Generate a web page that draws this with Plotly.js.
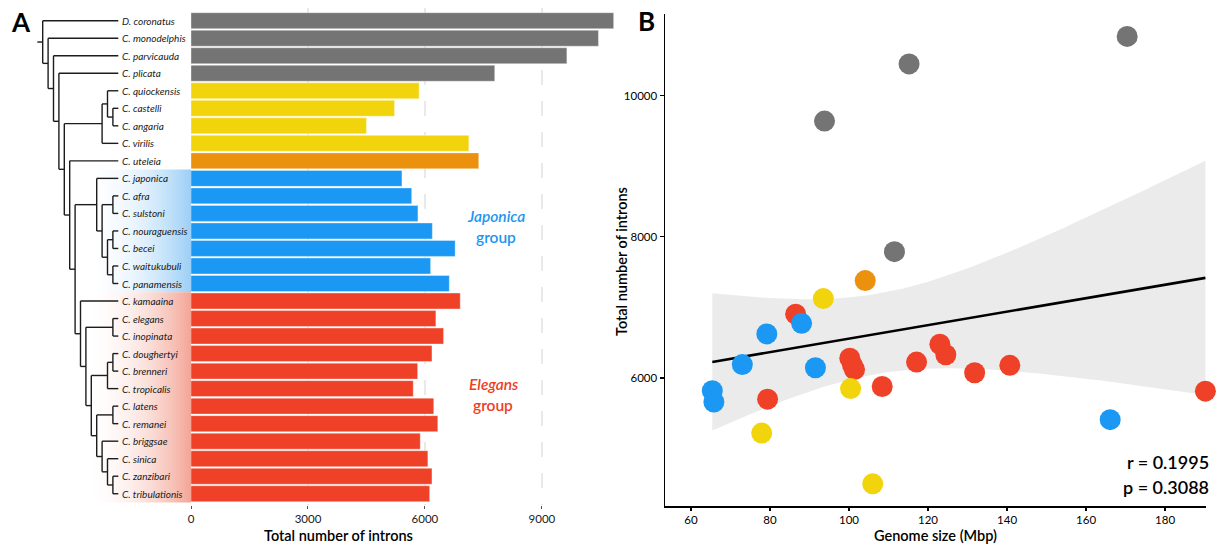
<!DOCTYPE html>
<html><head><meta charset="utf-8">
<script src="https://cdn.plot.ly/plotly-3.0.1.min.js"></script>
<style>html,body{margin:0;padding:0;background:#fff}#chart{width:1221px;height:545px}</style>
</head><body><div id="chart"></div>
<script>
// ---------------- DATA ----------------
const species = ['D. coronatus','C. monodelphis','C. parvicauda','C. plicata','C. quiockensis','C. castelli','C. angaria','C. virilis','C. uteleia','C. japonica','C. afra','C. sulstoni','C. nouraguensis','C. becei','C. waitukubuli','C. panamensis','C. kamaaina','C. elegans','C. inopinata','C. doughertyi','C. brenneri','C. tropicalis','C. latens','C. remanei','C. briggsae','C. sinica','C. zanzibari','C. tribulationis'];
const groups = ['basal','basal','basal','basal','drosophilae','drosophilae','drosophilae','drosophilae','uteleia','japonica','japonica','japonica','japonica','japonica','japonica','japonica','elegans','elegans','elegans','elegans','elegans','elegans','elegans','elegans','elegans','elegans','elegans','elegans'];
const introns = [10840,10450,9640,7790,5850,5220,4500,7125,7380,5410,5660,5820,6190,6775,6145,6625,6905,6280,6478,6180,5813,5700,6226,6330,5880,6075,6180,6121];
const genomeSize = [170.4,115.2,93.8,111.5,100.4,77.9,106.0,93.5,104.1,166.1,65.8,65.4,73.0,88.0,91.5,79.2,86.5,100.2,123.0,140.7,190.2,79.4,117.1,124.5,108.4,131.8,100.9,101.4];
const treeNewick = "(D. coronatus,(C. monodelphis,(C. parvicauda,(C. plicata,(((C. quiockensis,(C. castelli,C. angaria)),C. virilis),(C. uteleia,((C. japonica,((C. afra,C. sulstoni),((C. nouraguensis,C. becei),(C. waitukubuli,C. panamensis)))),(C. kamaaina,((C. elegans,C. inopinata),(((C. doughertyi,C. brenneri),C. tropicalis),((C. latens,C. remanei),(C. briggsae,(C. sinica,(C. zanzibari,C. tribulationis))))))))))))))";
const barTicks = [0,3000,6000,9000];
const sizeTicks = [60,80,100,120,140,160,180];
const intronTicks = [6000,8000,10000];
const statR = 'r = 0.1995';
const statP = 'p = 0.3088';

// ---------------- STYLE ----------------
const colorOf = {basal:'#747474', drosophilae:'#f2d40c', uteleia:'#eb910e', japonica:'#1a98f4', elegans:'#ee4127'};
const FONT = 'Lato, "Open Sans", sans-serif';
const W = 1221, H = 545;
const px = p => p / W, py = p => 1 - p / H;

// ---------------- TREE ----------------
function parseNewick(s){
  let i = 0;
  function node(){
    if (s[i] === '('){
      i++; const ch = [];
      while (true){
        ch.push(node());
        if (s[i] === ','){ i++; continue; }
        if (s[i] === ')'){ i++; break; }
      }
      return {children: ch};
    }
    const j = i;
    while (i < s.length && !',()'.includes(s[i])) i++;
    return {name: s.slice(j, i).trim()};
  }
  return node();
}
const root = parseNewick(treeNewick);
function placeNode(nd){
  if (nd.name !== undefined){ nd.y = species.indexOf(nd.name); nd.h = 0; }
  else {
    nd.children.forEach(placeNode);
    nd.h = 1 + Math.max(...nd.children.map(c => c.h));
    nd.y = (nd.children[0].y + nd.children[nd.children.length-1].y) / 2;
  }
  nd.x = -nd.h;
}
placeNode(root);
const tx = [], ty = [];
function seg(x0,y0,x1,y1){ tx.push(x0,x1,null); ty.push(y0,y1,null); }
function walk(nd){
  if (!nd.children) return;
  const a = nd.children[0], b = nd.children[nd.children.length-1];
  seg(nd.x, a.y, nd.x, b.y);
  nd.children.forEach(c => { seg(nd.x, c.y, c.x, c.y); walk(c); });
}
walk(root);
seg(root.x - 1, root.y, root.x, root.y);

const tipPx = 118.3, stepPx = 5.4, barLeftPx = 191;
const x2range = [-tipPx/stepPx, (barLeftPx - tipPx)/stepPx];

function groupRows(g){ const r = species.map((s,i)=>i).filter(i=>groups[i]===g); return [Math.min(...r)-0.5, Math.max(...r)+0.5]; }
function gradTrace(g, c){
  const [y0,y1] = groupRows(g);
  const xl = (84 - tipPx)/stepPx, xr = x2range[1];
  return {type:'scatter', mode:'lines', xaxis:'x2', yaxis:'y', x:[xl,xr,xr,xl,xl], y:[y0,y0,y1,y1,y0],
    fill:'toself', line:{width:0}, hoverinfo:'skip', showlegend:false,
    fillgradient:{type:'horizontal', colorscale:[[0,'rgba(255,255,255,0)'],[1,c]]}};
}

// ---------------- REGRESSION ----------------
const n = genomeSize.length;
const mx = genomeSize.reduce((a,b)=>a+b,0)/n, my = introns.reduce((a,b)=>a+b,0)/n;
let sxx=0, sxy=0;
for (let i=0;i<n;i++){ sxx += (genomeSize[i]-mx)**2; sxy += (genomeSize[i]-mx)*(introns[i]-my); }
const slope = sxy/sxx, icpt = my - slope*mx;
let sse = 0; for (let i=0;i<n;i++){ sse += (introns[i] - icpt - slope*genomeSize[i])**2; }
const sres = Math.sqrt(sse/(n-2)), tcrit = 2.0555;
const xmin = Math.min(...genomeSize), xmax = Math.max(...genomeSize);
const fx = [], fy = [], up = [], lo = [];
for (let k=0;k<=80;k++){
  const x = xmin + (xmax-xmin)*k/80, yv = icpt + slope*x;
  const se = sres*Math.sqrt(1/n + (x-mx)**2/sxx);
  fx.push(x); fy.push(yv); up.push(yv + tcrit*se); lo.push(yv - tcrit*se);
}

// ---------------- TRACES ----------------
const rows = species.map((s,i)=>i);
const order = rows.slice().reverse();
const traces = [
  gradTrace('japonica','#9ccff6'),
  gradTrace('elegans','#f3a596'),
  {type:'scatter', mode:'lines', xaxis:'x2', yaxis:'y', x:tx, y:ty, line:{color:'#1c1c1c', width:1.4}, hoverinfo:'skip', showlegend:false},
  {type:'bar', orientation:'h', xaxis:'x', yaxis:'y', x:introns, y:rows, width:0.91,
    marker:{color:groups.map(g=>colorOf[g]), line:{width:0.8, color:'rgba(255,255,255,0.45)'}}, showlegend:false},
  {type:'scatter', mode:'lines', xaxis:'x3', yaxis:'y3', x:fx.concat(fx.slice().reverse()), y:up.concat(lo.slice().reverse()),
    fill:'toself', fillcolor:'#ebebeb', line:{width:0}, hoverinfo:'skip', showlegend:false},
  {type:'scatter', mode:'lines', xaxis:'x3', yaxis:'y3', x:fx, y:fy, line:{color:'#000', width:2.6}, showlegend:false},
  {type:'scatter', mode:'markers', xaxis:'x3', yaxis:'y3', x:order.map(i=>genomeSize[i]), y:order.map(i=>introns[i]),
    marker:{size:21, color:order.map(i=>colorOf[groups[i]]), line:{width:0}}, cliponaxis:false, showlegend:false}
];

// ---------------- ANNOTATIONS ----------------
const ann = [];
species.forEach((sp,i)=>ann.push({xref:'x2', yref:'y', x:0, y:i, xanchor:'left', yanchor:'middle', xshift:2, showarrow:false,
  text:'<i>'+sp+'</i>', font:{family:FONT, size:10, color:'#1a1a1a'}}));
function pa(x, y, text, font, extra){ ann.push(Object.assign({xref:'paper', yref:'paper', x:px(x), y:py(y), xanchor:'center', yanchor:'middle', showarrow:false, text:text, font:font}, extra||{})); }
const blueF = {family:FONT, size:15.5, color:'#1e95ef', weight:600}, redF = {family:FONT, size:15.5, color:'#ee3e24', weight:600};
pa(496, 216, '<i>Japonica</i>', blueF);
pa(496, 237, 'group', blueF);
pa(493, 384, '<i>Elegans</i>', redF);
pa(493, 405, 'group', redF);
pa(21, 22, '<b>A</b>', {family:FONT, size:26, color:'#000'});
pa(646, 21, '<b>B</b>', {family:FONT, size:26, color:'#000'});
const titleF = {family:FONT, size:14.5, color:'#000', weight:600};
pa(338, 535, 'Total number of introns', titleF);
pa(935.5, 535, 'Genome size (Mbp)', titleF);
pa(621, 262, 'Total number of introns', titleF, {textangle:-90});
const statF = {family:FONT, size:18, color:'#000', weight:600};
pa(1211, 462, statR, statF, {xanchor:'right'});
pa(1211, 487, statP, statF, {xanchor:'right'});

// ---------------- LAYOUT ----------------
const rowTop = 8, rowBot = 505, pitch = 17.52, firstCenter = 20.7;
const yRange = [27 + (rowBot - (firstCenter + 27*pitch))/pitch, -(firstCenter - rowTop)/pitch];
const plotLayout = {
  width:W, height:H, margin:{l:0,r:0,t:0,b:0}, paper_bgcolor:'#fff', plot_bgcolor:'rgba(0,0,0,0)',
  font:{family:FONT, color:'#1a1a1a'}, showlegend:false, bargap:0,
  xaxis:{domain:[px(191), px(616)], range:[0,10900], anchor:'y', tickvals:barTicks, ticktext:barTicks.map(String),
    showgrid:true, gridcolor:'#e9e9e9', gridwidth:2, griddash:'15px,16px', zeroline:false, showline:false,
    ticks:'outside', ticklen:3, tickcolor:'#555', tickwidth:1, tickfont:{family:FONT, size:11.5, color:'#1a1a1a'}},
  yaxis:{domain:[py(rowBot), py(rowTop)], range:yRange, anchor:'x', showgrid:false, zeroline:false, showticklabels:false, ticks:'', showline:false},
  xaxis2:{domain:[0, px(191)], range:x2range, anchor:'y', visible:false},
  xaxis3:{domain:[px(665), px(1206)], range:[60-(691-665)/3.958, 190.35], anchor:'y3',
    tickvals:sizeTicks, ticktext:sizeTicks.map(String), showgrid:false, zeroline:false, showline:true, linecolor:'#000', linewidth:1.5,
    ticks:'outside', ticklen:3, tickcolor:'#000', tickwidth:1.2, tickfont:{family:FONT, size:11.5, color:'#000'}},
  yaxis3:{domain:[py(506), py(14)], range:[6000-(506-378)/0.07058, 6000+(378-14)/0.07058], anchor:'x3',
    tickvals:intronTicks, ticktext:intronTicks.map(String), showgrid:false, zeroline:false, showline:true, linecolor:'#000', linewidth:1.5,
    ticks:'outside', ticklen:4, tickcolor:'#000', tickwidth:1.2, tickfont:{family:FONT, size:11.5, color:'#000'}},
  annotations:ann
};
Plotly.newPlot('chart', traces, plotLayout, {displayModeBar:false, staticPlot:true});
</script></body></html>
